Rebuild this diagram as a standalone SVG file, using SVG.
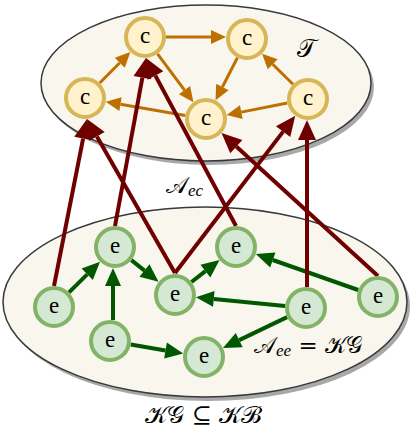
<svg xmlns="http://www.w3.org/2000/svg" width="417" height="442" viewBox="0 0 417 442">
<defs>
<style>
.ell{fill:#f9f7ed;stroke:#36393d;stroke-width:1.5}
.shadow{fill:#a8a8a8}
.cn{fill:#fff2cc;stroke:#d6b656;stroke-width:4}
.en{fill:#d5e8d4;stroke:#82b366;stroke-width:4}
.lbl{font-size:23px;fill:#000;text-anchor:middle}
.o{stroke:#bd7000;stroke-width:3;fill:none;marker-end:url(#ao)}
.g{stroke:#005700;stroke-width:4;fill:none;marker-end:url(#ag)}
.r{stroke:#6f0000;stroke-width:4;fill:none;marker-end:url(#ar)}
.m{fill:#000}
.sub{font-style:italic}
</style>
<marker id="ao" markerUnits="userSpaceOnUse" markerWidth="16" markerHeight="16" refX="0" refY="7" orient="auto" overflow="visible"><path d="M0,0 L15,7 L0,14 z" fill="#bd7000"/></marker>
<marker id="ag" markerUnits="userSpaceOnUse" markerWidth="20" markerHeight="18" refX="0" refY="8" orient="auto" overflow="visible"><path d="M0,0 L18,8 L0,16 z" fill="#005700"/></marker>
<marker id="ar" markerUnits="userSpaceOnUse" markerWidth="22" markerHeight="20" refX="0" refY="9" orient="auto" overflow="visible"><path d="M0,0 L20,9 L0,18 z" fill="#6f0000"/></marker>
</defs>
<g id="set-T">
<ellipse class="shadow" cx="209" cy="87" rx="165" ry="78"/>
<ellipse class="ell" cx="206" cy="83" rx="165" ry="78"/>
</g>
<g id="set-KB">
<ellipse class="shadow" cx="208" cy="306" rx="202" ry="95"/>
<ellipse class="ell" cx="205" cy="302" rx="202" ry="95"/>
</g>
<g id="connectors">
<line class="o" x1="99.7" y1="83" x2="119.8" y2="62.7"/>
<line class="o" x1="166" y1="37" x2="211" y2="37"/>
<line class="o" x1="157.5" y1="53.8" x2="184.5" y2="90.1"/>
<line class="o" x1="237.4" y1="57.7" x2="222.4" y2="87"/>
<line class="o" x1="293" y1="84.3" x2="272.7" y2="64.2"/>
<line class="o" x1="287.4" y1="103" x2="241.3" y2="112.1"/>
<line class="o" x1="185.3" y1="115.4" x2="120.5" y2="104.2"/>
<line class="g" x1="69" y1="292.3" x2="87.2" y2="274.3"/>
<line class="g" x1="131.4" y1="260.1" x2="144.5" y2="270.6"/>
<line class="g" x1="113" y1="320" x2="113" y2="286"/>
<line class="g" x1="191.5" y1="282" x2="205.4" y2="271.1"/>
<line class="g" x1="285.1" y1="305.9" x2="213.8" y2="298.9"/>
<line class="g" x1="358.2" y1="290" x2="272.8" y2="260"/>
<line class="g" x1="287.1" y1="317.1" x2="239.2" y2="340.1"/>
<line class="g" x1="130.7" y1="344.5" x2="165.5" y2="350.5"/>
<line class="r" x1="54" y1="286" x2="83.1" y2="138.6"/>
<line class="r" x1="175" y1="273" x2="96.9" y2="136.4"/>
<line class="r" x1="115" y1="226" x2="142.4" y2="77.7"/>
<line class="r" x1="236" y1="226" x2="155.4" y2="75.6"/>
<line class="r" x1="175" y1="273" x2="283.1" y2="131.6"/>
<line class="r" x1="307" y1="287" x2="307" y2="140"/>
<line class="r" x1="378" y1="276" x2="236.3" y2="146.6"/>
</g>
<g font-family="'Liberation Serif', 'DejaVu Serif', serif">
<g id="c1"><circle class="cn" cx="145" cy="37" r="19"/><text class="lbl" x="145" y="43">c</text></g>
<g id="c2"><circle class="cn" cx="247" cy="39" r="19"/><text class="lbl" x="247" y="45">c</text></g>
<g id="c3"><circle class="cn" cx="85" cy="98" r="19"/><text class="lbl" x="85" y="104">c</text></g>
<g id="c4"><circle class="cn" cx="206" cy="119" r="19"/><text class="lbl" x="206" y="125">c</text></g>
<g id="c5"><circle class="cn" cx="308" cy="99" r="19"/><text class="lbl" x="308" y="105">c</text></g>
<g id="e1"><circle class="en" cx="115" cy="247" r="19"/><text class="lbl" x="115" y="253">e</text></g>
<g id="e2"><circle class="en" cx="236" cy="247" r="19"/><text class="lbl" x="236" y="253">e</text></g>
<g id="e3"><circle class="en" cx="175" cy="295" r="19"/><text class="lbl" x="175" y="301">e</text></g>
<g id="e4"><circle class="en" cx="54" cy="307" r="19"/><text class="lbl" x="54" y="313">e</text></g>
<g id="e5"><circle class="en" cx="378" cy="297" r="19"/><text class="lbl" x="378" y="303">e</text></g>
<g id="e6"><circle class="en" cx="306" cy="308" r="19"/><text class="lbl" x="306" y="314">e</text></g>
<g id="e7"><circle class="en" cx="110" cy="341" r="19"/><text class="lbl" x="110" y="347">e</text></g>
<g id="e8"><circle class="en" cx="204" cy="357" r="19"/><text class="lbl" x="204" y="363">e</text></g>
</g>
<g id="labels" font-family="'DejaVu Serif', 'Liberation Serif', serif">
<text class="m" x="306" y="57" font-size="25" text-anchor="middle">𝒯</text>
<text class="m" x="166" y="193" font-size="23">𝒜<tspan class="sub" font-family="'Liberation Serif', serif" font-size="17" dy="3">ec</tspan></text>
<text class="m" x="254" y="353" font-size="23">𝒜<tspan class="sub" font-family="'Liberation Serif', serif" font-size="17" dy="3">ee</tspan><tspan dy="-3"> = 𝒦𝒢</tspan></text>
<text class="m" x="203" y="423" font-size="24" text-anchor="middle">𝒦𝒢 ⊆ 𝒦ℬ</text>
</g>
</svg>
